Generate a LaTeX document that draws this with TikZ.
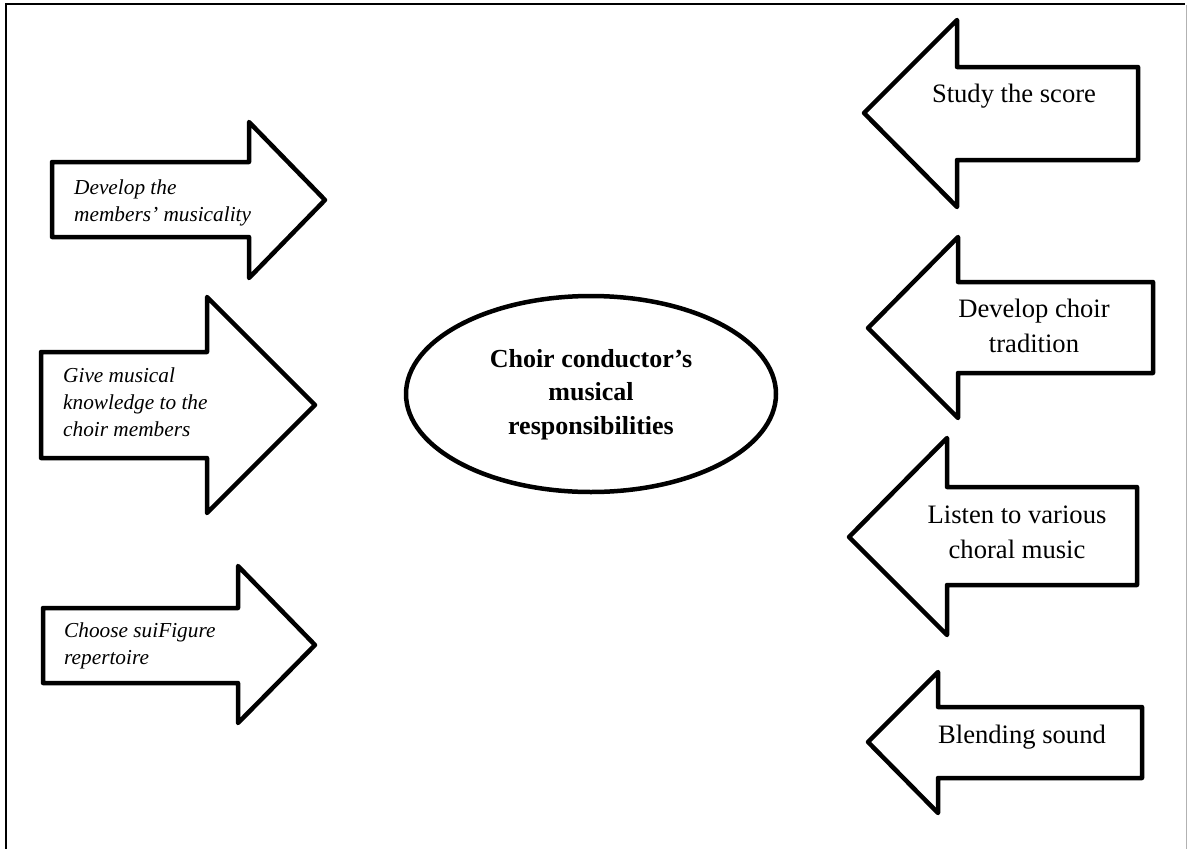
\documentclass[tikz,border=0pt]{standalone}
\usepackage{fontspec}
\setmainfont{Liberation Serif}
\usetikzlibrary{shapes.geometric}

\tikzset{
  bigarrow/.style={draw=black, line width=4.5pt, line join=round, fill=white},
  lefttext/.style={inner sep=0pt, anchor=base west,
    font=\fontsize{21.3}{27}\selectfont\itshape},
  righttext/.style={inner sep=0pt, anchor=base,
    font=\fontsize{26.6}{35.5}\selectfont},
  hub/.style={ellipse, draw=black, line width=4.5pt, fill=white, inner sep=0pt,
    minimum width=370pt, minimum height=196pt,
    font=\fontsize{26}{33.5}\selectfont\bfseries}
}

\begin{document}
\begin{tikzpicture}[x=1pt, y=-1pt]
\useasboundingbox (0,0) rectangle (1187,849);

% page frame
\draw[line width=2.2pt] (6,849) -- (6,4) -- (1185,4);
\draw[line width=1pt, black!30] (1186,5) -- (1186,849);

% arrows pointing right (left column)
\draw[bigarrow] (52,162) -- (249,162) -- (249,122) -- (325,200) -- (249,278) -- (249,237) -- (52,237) -- cycle;
\draw[bigarrow] (41,352) -- (207,352) -- (207,297) -- (315,405) -- (207,513) -- (207,458) -- (41,458) -- cycle;
\draw[bigarrow] (43,608) -- (238,608) -- (238,566) -- (315,645) -- (238,723) -- (238,683) -- (43,683) -- cycle;

% arrows pointing left (right column)
\draw[bigarrow] (1138,67) -- (957,67) -- (957,20) -- (864,113) -- (957,207) -- (957,160) -- (1138,160) -- cycle;
\draw[bigarrow] (1153,282) -- (958,282) -- (958,237) -- (868,328) -- (958,418) -- (958,373) -- (1153,373) -- cycle;
\draw[bigarrow] (1137,487) -- (947,487) -- (947,438) -- (849,537) -- (947,635) -- (947,585) -- (1137,585) -- cycle;
\draw[bigarrow] (1142,707) -- (938,707) -- (938,672) -- (868,742) -- (938,813) -- (938,778) -- (1142,778) -- cycle;

% labels of the left column
\node[lefttext] (musicality) at (74,194) {\begin{tabular}[t]{@{}l@{}}Develop the\\ members’ musicality\end{tabular}};
\node[lefttext] (knowledge) at (63,382) {\begin{tabular}[t]{@{}l@{}}Give musical\\ knowledge to the\\ choir members\end{tabular}};
\node[lefttext] (repertoire) at (64,637) {\begin{tabular}[t]{@{}l@{}}Choose suiFigure\\ repertoire\end{tabular}};

% labels of the right column
\node[righttext] (score) at (1014,102) {Study the score};
\node[righttext] (tradition) at (1034,317) {\begin{tabular}[t]{@{}c@{}}Develop choir\\ tradition\end{tabular}};
\node[righttext] (listen) at (1017,523) {\begin{tabular}[t]{@{}c@{}}Listen to various\\ choral music\end{tabular}};
\node[righttext] (blend) at (1022,743) {Blending sound};

% central ellipse
\node[hub] (centre) at (591,394) {\begin{tabular}{@{}c@{}}Choir conductor’s\\ musical\\ responsibilities\end{tabular}};
\end{tikzpicture}
\end{document}
